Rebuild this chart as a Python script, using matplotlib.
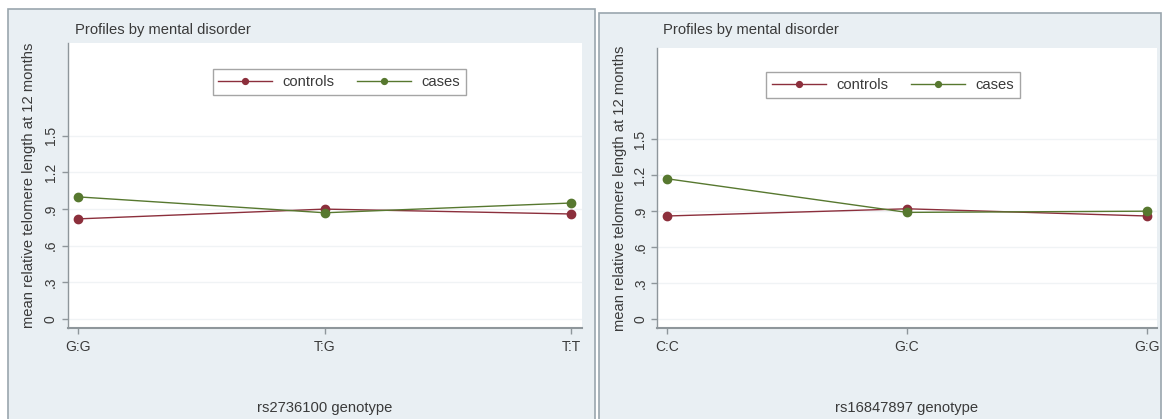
import matplotlib
matplotlib.use("Agg")
import matplotlib.pyplot as plt
from matplotlib.patches import Rectangle

# Data
left_categories = ["G:G", "T:G", "T:T"]
left_controls = [0.82, 0.90, 0.86]
left_cases = [1.00, 0.87, 0.95]
left_xlabel = "rs2736100 genotype"

right_categories = ["C:C", "G:C", "G:G"]
right_controls = [0.86, 0.92, 0.86]
right_cases = [1.17, 0.89, 0.90]
right_xlabel = "rs16847897 genotype"

yticks = [0, 0.3, 0.6, 0.9, 1.2, 1.5]
ytick_labels = ["0", ".3", ".6", ".9", "1.2", "1.5"]
series_names = ["controls", "cases"]
title_text = "Profiles by mental disorder"
ylabel_text = "mean relative telomere length at 12 months"

plt.rcParams['font.family'] = ['Liberation Sans', 'DejaVu Sans']

W, H = 1162, 419
fig = plt.figure(figsize=(W / 100, H / 100), dpi=100)
fig.patch.set_facecolor("white")

panel_bg = "#e9eff3"
border = "#9aa6ae"
text_c = "#3a3a3a"
axis_c = "#8e969b"
c_controls = "#8c2f3c"
c_cases = "#57782f"
FS = 10.6


def px_rect(x0, y0, x1, y1):
    return [x0 / W, 1 - y1 / H, (x1 - x0) / W, (y1 - y0) / H]


# panel backgrounds
for (x0, y0, x1) in [(8, 9, 595), (599, 13, 1161)]:
    l, b, w, h = px_rect(x0, y0, x1, H + 5)
    fig.patches.append(Rectangle((l, b), w, h, transform=fig.transFigure,
                                 facecolor=panel_bg, edgecolor=border,
                                 linewidth=1.2, zorder=-10))


def draw_panel(rect, cats, ctrl, cases, xlabel, legend_x, legend_y,
               ylab_x, title_x):
    ax = fig.add_axes(px_rect(*rect))
    ax.set_zorder(5)
    ax.set_facecolor("white")
    x = list(range(len(cats)))
    ax.plot(x, ctrl, color=c_controls, lw=1.0, marker="o", ms=6,
            label=series_names[0], zorder=3)
    ax.plot(x, cases, color=c_cases, lw=1.0, marker="o", ms=6,
            label=series_names[1], zorder=3)
    ax.set_xlim(-0.043, len(cats) - 1 + 0.043)
    ax.set_ylim(-0.071, 2.26)
    ax.set_yticks(yticks)
    ax.set_yticklabels(ytick_labels, rotation=90, va="center")
    ax.set_xticks(x)
    ax.set_xticklabels(cats)
    ax.grid(axis="y", color="#f0f3f5", lw=1.0)
    ax.set_axisbelow(True)
    for s in ["top", "right"]:
        ax.spines[s].set_visible(False)
    ax.spines["left"].set_color(axis_c)
    ax.spines["left"].set_linewidth(1.0)
    ax.spines["bottom"].set_color(axis_c)
    ax.spines["bottom"].set_linewidth(1.5)
    ax.tick_params(axis="both", colors=axis_c, labelcolor=text_c,
                   labelsize=10, length=4, width=1)
    ax.tick_params(axis="x", pad=5)
    ax.tick_params(axis="y", pad=3)
    ax.set_ylabel(ylabel_text, fontsize=FS, color=text_c)
    ax.yaxis.set_label_coords(ylab_x, 0.5)
    ax.set_xlabel(xlabel, fontsize=FS, color=text_c)
    # place x label top at a fixed pixel row (y = 401 px)
    h_px = rect[3] - rect[1]
    ax.xaxis.set_label_coords(0.5, -(401 - rect[3]) / h_px)
    leg = ax.legend(loc="upper center", bbox_to_anchor=(legend_x, legend_y),
                    ncol=2, fontsize=FS, frameon=True, fancybox=False,
                    handlelength=3.67, columnspacing=1.56, handletextpad=0.68,
                    borderpad=0.4, borderaxespad=0, markerscale=0.7,
                    labelcolor=text_c)
    leg.get_frame().set_edgecolor("#8f8f8f")
    leg.get_frame().set_linewidth(1.0)
    fig.text(title_x / W, 1 - 30 / H, title_text, fontsize=FS,
             color=text_c, ha="left", va="center")
    return ax


draw_panel((67.7, 43, 582, 327.7), left_categories, left_controls, left_cases,
           left_xlabel, 0.528, 0.909, -0.061, 75)
draw_panel((657, 48, 1157, 327.7), right_categories, right_controls, right_cases,
           right_xlabel, 0.472, 0.914, -0.060, 663)

fig.savefig("out.png", dpi=100, facecolor=fig.get_facecolor())
